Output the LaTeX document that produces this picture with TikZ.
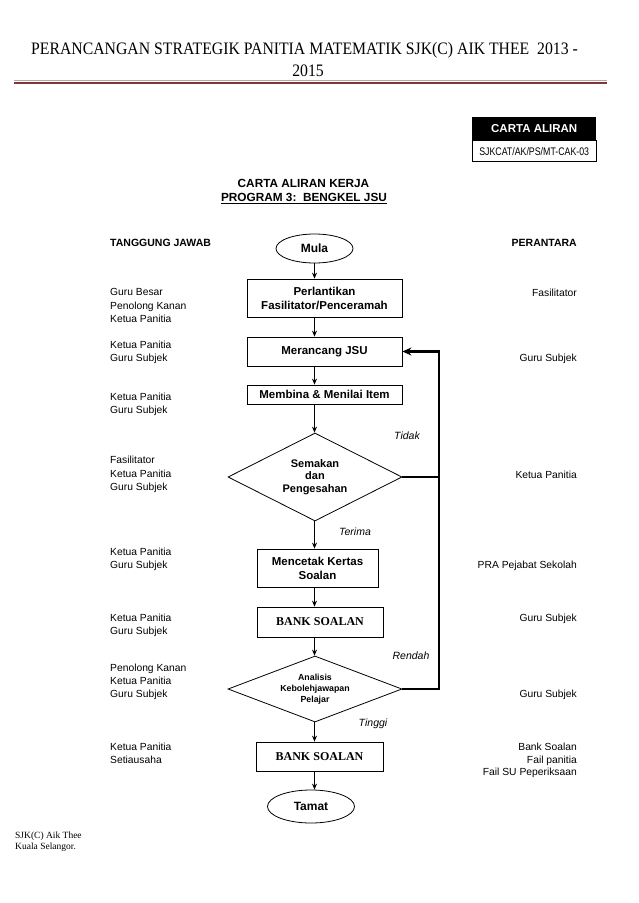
\documentclass[tikz,border=0pt]{standalone}
\usepackage{fontspec}
\setmainfont{Liberation Sans}
\newfontfamily\titlefont[FakeStretch=0.9]{Liberation Serif}
\newfontfamily\timesfont{Liberation Serif}
\newfontfamily\narrowfont[FakeStretch=0.8]{Liberation Sans}
\usetikzlibrary{arrows.meta,shapes.geometric}
\definecolor{ruledark}{RGB}{122,58,58}
\definecolor{rulelight}{RGB}{200,160,160}
\begin{document}
\begin{tikzpicture}[x=1pt,y=-1pt,
  box/.style={draw,line width=0.8pt,inner sep=0pt,align=center,font=\bfseries\fontsize{11.5}{14}\selectfont},
  bank/.style={draw,line width=0.8pt,inner sep=0pt,font=\timesfont\bfseries\fontsize{12}{14}\selectfont},
  ell/.style={ellipse,draw,line width=0.8pt,inner sep=0pt,font=\bfseries\fontsize{12}{14}\selectfont},
  dia/.style={diamond,draw,line width=0.8pt,inner sep=0pt,align=center,font=\bfseries\fontsize{11}{12.5}\selectfont},
  flow/.style={line width=0.8pt,-{Stealth[length=6pt,width=5pt]}},
  fb/.style={line width=2.6pt},
  lab/.style={inner sep=0pt,font=\itshape\fontsize{10.5}{12}\selectfont},
  txt/.style={inner sep=0pt,text height=7pt,text depth=0pt,font=\fontsize{10.3}{13}\selectfont},
  head/.style={inner sep=0pt,text height=7.5pt,text depth=0pt,font=\bfseries\fontsize{10.5}{13}\selectfont}]
\useasboundingbox (0,0) rectangle (638,903);

% title
\node[inner sep=0pt,anchor=west,font=\titlefont\fontsize{17.5}{20}\selectfont] (t1) at (31,50) {PERANCANGAN STRATEGIK PANITIA MATEMATIK SJK(C) AIK THEE\ \ 2013 -};
\node[inner sep=0pt,font=\titlefont\fontsize{17.5}{20}\selectfont] (t2) at (308,71) {2015};
\draw[rulelight,line width=1pt] (14,80.5) -- (607,80.5);
\draw[ruledark,line width=2.6pt] (14,82.9) -- (607,82.9);

% code box
\node[fill=black,text=white,minimum width=124pt,minimum height=23pt,anchor=north west,inner sep=0pt,font=\bfseries\fontsize{11.5}{13}\selectfont] (carta) at (472,117) {CARTA ALIRAN};
\node[draw,line width=0.6pt,minimum width=124pt,minimum height=21pt,anchor=north,inner sep=0pt,font=\narrowfont\fontsize{11}{13}\selectfont] (kod) at (carta.south) {SJKCAT/AK/PS/MT-CAK-03};

% headings
\node[inner sep=0pt,font=\bfseries\fontsize{11.8}{14}\selectfont] (h1) at (303.5,183) {CARTA ALIRAN KERJA};
\node[inner sep=0pt,font=\bfseries\fontsize{11.8}{14}\selectfont] (h2) at (304,198.5) {\underline{PROGRAM 3:\ \ BENGKEL JSU}};
\node[head,anchor=west] (tj) at (110,243) {TANGGUNG JAWAB};
\node[head,anchor=east] (pr) at (577,243) {PERANTARA};

% flow nodes
\node[ell,minimum width=77pt,minimum height=29pt] (mula) at (314.5,248.5) {Mula};
\node[box,minimum width=155pt,minimum height=38pt] (perl) at (324.5,298) {Perlantikan\\Fasilitator/Penceramah};
\node[box,minimum width=155pt,minimum height=29pt] (meran) at (324.5,351.5) {Merancang JSU};
\node[box,minimum width=155pt,minimum height=19pt] (memb) at (324.5,394.5) {Membina \& Menilai Item};
\node[dia,minimum width=174pt,minimum height=88pt,shape aspect=2] (sem) at (315,477) {Semakan\\dan\\Pengesahan};
\node[box,minimum width=121pt,minimum height=38pt] (cetak) at (317.5,568) {Mencetak Kertas\\Soalan};
\node[bank,minimum width=126pt,minimum height=30pt] (bank1) at (320,622) {BANK SOALAN};
\node[dia,minimum width=174pt,minimum height=66pt,shape aspect=2.6,font=\bfseries\fontsize{8.8}{11}\selectfont] (ana) at (315,689) {Analisis\\Kebolehjawapan\\Pelajar};
\node[bank,minimum width=127pt,minimum height=29pt] (bank2) at (319.5,756.5) {BANK SOALAN};
\node[ell,minimum width=87pt,minimum height=33pt] (tamat) at (311,806.5) {Tamat};

% connectors
\coordinate (col) at (314.5,0);
\coordinate (fbx) at (439,0);
\draw[flow] (mula.south) -- (mula.south |- perl.north);
\draw[flow] (perl.south -| col) -- (meran.north -| col);
\draw[flow] (meran.south -| col) -- (memb.north -| col);
\draw[flow] (memb.south -| col) -- (sem.north -| col);
\draw[flow] (sem.south -| col) -- (cetak.north -| col);
\draw[flow] (cetak.south -| col) -- (bank1.north -| col);
\draw[flow] (bank1.south -| col) -- (ana.north -| col);
\draw[flow] (ana.south -| col) -- (bank2.north -| col);
\draw[flow] (bank2.south -| col) -- (tamat.north -| col);
\draw[fb] (sem.east) -- (sem.east -| fbx);
\draw[fb,-{Stealth[length=9pt,width=8pt]}] (ana.east) -- (ana.east -| fbx) -- (meran.east -| fbx) -- (meran.east);

% labels
\node[lab] (tidak) at (407,436) {Tidak};
\node[lab] (terima) at (355,532) {Terima};
\node[lab] (rendah) at (411,656) {Rendah};
\node[lab] (tinggi) at (373,724) {Tinggi};

% left column
\foreach \t/\yy [count=\i] in {Guru Besar/292,Penolong Kanan/305.5,Ketua Panitia/319,Ketua Panitia/345,Guru Subjek/357.5,Ketua Panitia/397,Guru Subjek/410,Fasilitator/460,Ketua Panitia/474,Guru Subjek/487,Ketua Panitia/552,Guru Subjek/565,Ketua Panitia/618,Guru Subjek/630.5,Penolong Kanan/668,Ketua Panitia/681,Guru Subjek/694,Ketua Panitia/747,Setiausaha/759.5}
  \node[txt,anchor=west] (L\i) at (110,\yy) {\t};

% right column
\foreach \t/\yy [count=\i] in {Fasilitator/293,Guru Subjek/357.5,Ketua Panitia/475,PRA Pejabat Sekolah/565,Guru Subjek/617.5,Guru Subjek/694,Bank Soalan/746.5,Fail panitia/759.5,Fail SU Peperiksaan/772}
  \node[txt,anchor=east] (R\i) at (577,\yy) {\t};

% footer
\node[inner sep=0pt,anchor=west,font=\timesfont\fontsize{9.5}{11}\selectfont] (f1) at (15,836) {SJK(C) Aik Thee};
\node[inner sep=0pt,anchor=west,font=\timesfont\fontsize{9.5}{11}\selectfont] (f2) at (15,847.5) {Kuala Selangor.};
\end{tikzpicture}
\end{document}
